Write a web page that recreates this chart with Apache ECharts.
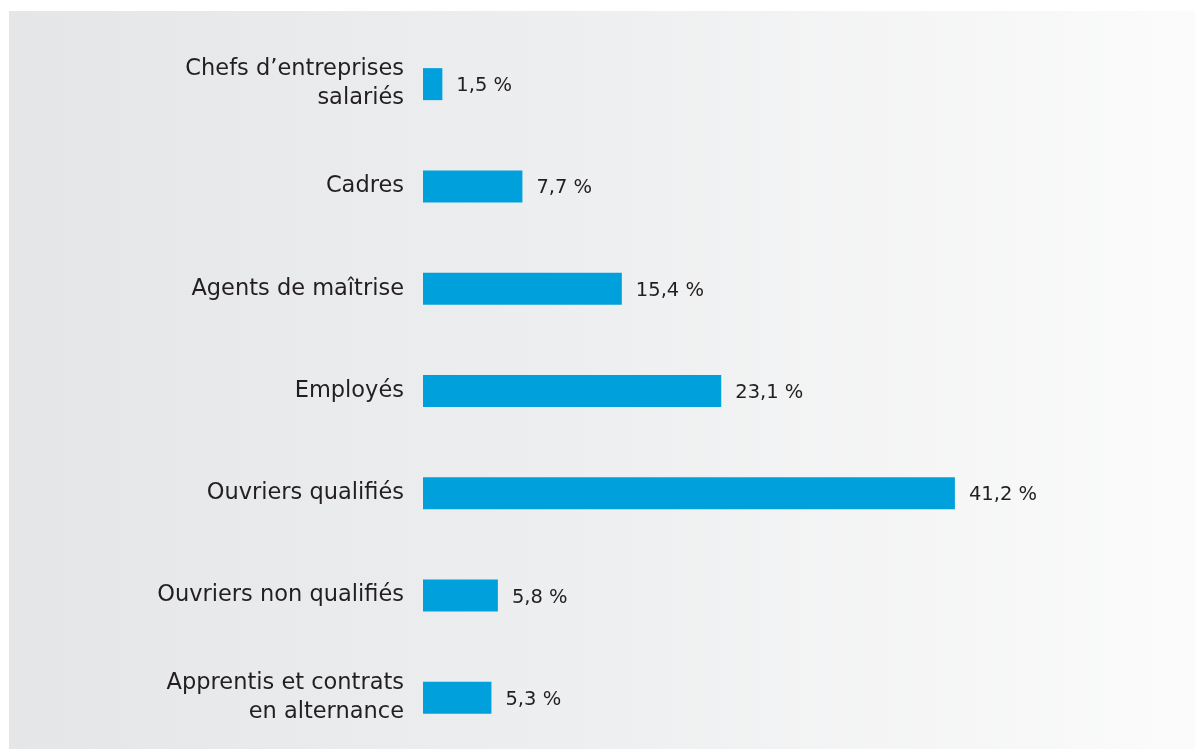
<!DOCTYPE html>
<html lang="fr">
<head>
<meta charset="utf-8">
<title>Répartition par catégorie socioprofessionnelle</title>
<script src="https://cdn.jsdelivr.net/npm/echarts@6/dist/echarts.min.js"></script>
<style>
  html, body { margin: 0; padding: 0; background: #ffffff; }
  #chart { width: 1195px; height: 749px; }
</style>
</head>
<body>
<div id="chart"></div>
<script>
// Catégories socioprofessionnelles (de haut en bas)
const categories = [
  'Chefs d\u2019entreprises\nsalariés',
  'Cadres',
  'Agents de maîtrise',
  'Employés',
  'Ouvriers qualifiés',
  'Ouvriers non qualifiés',
  'Apprentis et contrats\nen alternance'
];
// Part de chaque catégorie, en %
const shares = [1.5, 7.7, 15.4, 23.1, 41.2, 5.8, 5.3];

const TEXT = '#231f20';
const FONT = '"DejaVu Sans", "Liberation Sans", Arial, sans-serif';

const chart = echarts.init(document.getElementById('chart'), null, { renderer: 'canvas' });

chart.setOption({
  backgroundColor: '#ffffff',
  animation: false,
  graphic: [{
    type: 'rect',
    z: -10,
    shape: { x: 9, y: 11, width: 1186, height: 738 },
    style: {
      fill: new echarts.graphic.LinearGradient(0, 0, 1, 0, [
        { offset: 0, color: '#e5e6e8' },
        { offset: 0.5, color: '#eeeff0' },
        { offset: 1, color: '#fbfbfb' }
      ])
    },
    silent: true
  }],
  grid: { left: 423, right: 126.5, top: 33, height: 717 },
  xAxis: {
    type: 'value',
    min: 0,
    max: 50,
    show: false
  },
  yAxis: {
    type: 'category',
    data: categories,
    inverse: true,
    axisLine: { show: false },
    axisTick: { show: false },
    splitLine: { show: false },
    axisLabel: {
      color: TEXT,
      fontFamily: FONT,
      fontSize: 22.5,
      lineHeight: 29,
      margin: 19,
      align: 'right'
    }
  },
  series: [{
    type: 'bar',
    data: shares,
    barWidth: 32,
    itemStyle: { color: '#00a0dc' },
    label: {
      show: true,
      position: 'right',
      distance: 14,
      color: TEXT,
      fontFamily: FONT,
      fontSize: 19.5,
      offset: [0, 2],
      formatter: p => String(p.value).replace('.', ',') + ' %'
    }
  }]
});
</script>
</body>
</html>
